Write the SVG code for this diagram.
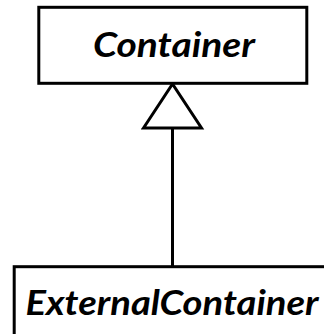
<svg xmlns="http://www.w3.org/2000/svg" width="324" height="334" viewBox="0 0 324 334">
<style>
.box{fill:#fff;stroke:#000;stroke-width:3}
.lbl{font-family:Lato,"Open Sans","Liberation Sans",sans-serif;font-weight:bold;font-style:italic;font-size:34px;fill:#000}
.conn{stroke:#000;stroke-width:3;fill:none}
</style>
<defs>
<marker id="gen" markerUnits="userSpaceOnUse" markerWidth="50" markerHeight="64" viewBox="0 0 50 64" refX="46" refY="32" orient="auto">
<path d="M2,3 L46,32 L2,61 Z" fill="#fff" stroke="#000" stroke-width="3"/>
</marker>
</defs>
<rect width="324" height="334" fill="#fff"/>
<g id="connectors">
<line class="conn" x1="172.5" y1="267" x2="172.5" y2="84" marker-end="url(#gen)"/>
</g>
<g id="Container">
<rect class="box" x="38.8" y="7.3" width="268" height="76"/>
<text class="lbl" x="93" y="56.5" textLength="162" lengthAdjust="spacingAndGlyphs">Container</text>
</g>
<g id="ExternalContainer">
<rect class="box" x="14.2" y="266.7" width="330" height="90"/>
<text class="lbl" x="25.5" y="315" textLength="293" lengthAdjust="spacingAndGlyphs">ExternalContainer</text>
</g>
</svg>
